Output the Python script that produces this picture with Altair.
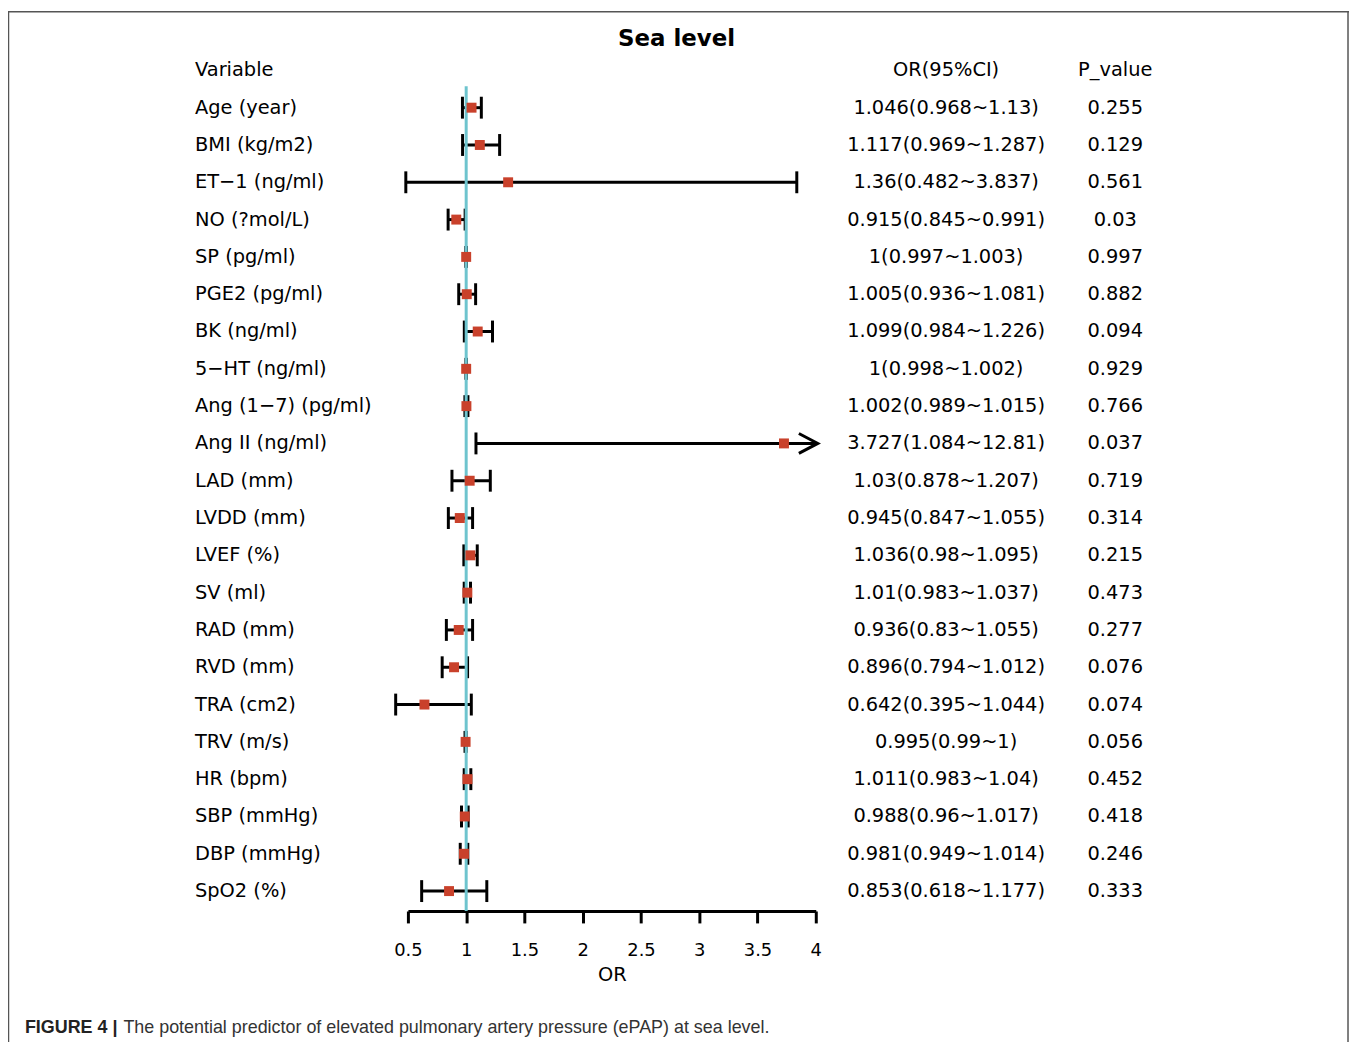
import altair as alt
import pandas as pd

# ---------------- data ----------------
variables = ["Age (year)", "BMI (kg/m2)", "ET\u22121 (ng/ml)", "NO (?mol/L)", "SP (pg/ml)",
             "PGE2 (pg/ml)", "BK (ng/ml)", "5\u2212HT (ng/ml)", "Ang (1\u22127) (pg/ml)",
             "Ang II (ng/ml)", "LAD (mm)", "LVDD (mm)", "LVEF (%)", "SV (ml)", "RAD (mm)",
             "RVD (mm)", "TRA (cm2)", "TRV (m/s)", "HR (bpm)", "SBP (mmHg)", "DBP (mmHg)",
             "SpO2 (%)"]
odds = [1.046, 1.117, 1.36, 0.915, 1, 1.005, 1.099, 1, 1.002, 3.727, 1.03, 0.945,
        1.036, 1.01, 0.936, 0.896, 0.642, 0.995, 1.011, 0.988, 0.981, 0.853]
lower = [0.968, 0.969, 0.482, 0.845, 0.997, 0.936, 0.984, 0.998, 0.989, 1.084, 0.878,
         0.847, 0.98, 0.983, 0.83, 0.794, 0.395, 0.99, 0.983, 0.96, 0.949, 0.618]
upper = [1.13, 1.287, 3.837, 0.991, 1.003, 1.081, 1.226, 1.002, 1.015, 12.81, 1.207,
         1.055, 1.095, 1.037, 1.055, 1.012, 1.044, 1, 1.04, 1.017, 1.014, 1.177]
ci_text = ["1.046(0.968~1.13)", "1.117(0.969~1.287)", "1.36(0.482~3.837)",
           "0.915(0.845~0.991)", "1(0.997~1.003)", "1.005(0.936~1.081)",
           "1.099(0.984~1.226)", "1(0.998~1.002)", "1.002(0.989~1.015)",
           "3.727(1.084~12.81)", "1.03(0.878~1.207)", "0.945(0.847~1.055)",
           "1.036(0.98~1.095)", "1.01(0.983~1.037)", "0.936(0.83~1.055)",
           "0.896(0.794~1.012)", "0.642(0.395~1.044)", "0.995(0.99~1)",
           "1.011(0.983~1.04)", "0.988(0.96~1.017)", "0.981(0.949~1.014)",
           "0.853(0.618~1.177)"]
p_values = ["0.255", "0.129", "0.561", "0.03", "0.997", "0.882", "0.094", "0.929",
            "0.766", "0.037", "0.719", "0.314", "0.215", "0.473", "0.277", "0.076",
            "0.074", "0.056", "0.452", "0.418", "0.246", "0.333"]
headers = ["Variable", "OR(95%CI)", "P_value"]
tick_values = [0.5, 1, 1.5, 2, 2.5, 3, 3.5, 4]
x_min, x_max = 0.5, 4
ref_value = 1
title_text = "Sea level"
caption_bold = "FIGURE 4 |"
caption_text = "The potential predictor of elevated pulmonary artery pressure (ePAP) at sea level."

# ---------------- tables ----------------
n = len(variables)
df = pd.DataFrame({
    "row": list(range(1, n + 1)),
    "variable": variables,
    "or": odds,
    "lo": lower,
    "hi": upper,
})
df["hi_draw"] = df["hi"].clip(upper=x_max)
caps = pd.concat([
    pd.DataFrame({"row": df["row"], "v": df["lo"]}),
    pd.DataFrame({"row": df["row"][df["hi"] <= x_max], "v": df["hi"][df["hi"] <= x_max]}),
])
arrows = df[df["hi"] > x_max][["row", "hi_draw"]]

text_df = pd.DataFrame({
    "row": list(range(0, n + 1)),
    "label": [headers[0]] + variables,
    "ci": [headers[1]] + ci_text,
    "p": [headers[2]] + p_values,
})

FONT = "DejaVu Sans"
FS = 19.5
W, H = 1348, 1034

xs = alt.Scale(domain=[x_min, x_max], range=[402, 812], nice=False, zero=False)
ys = alt.Scale(domain=[0, n], range=[60, 885], nice=False, zero=False)

x_axis = alt.Axis(values=tick_values, format="~g", orient="bottom", offset=905 - H,
                  domainColor="black", domainWidth=3, tickColor="black", tickWidth=3,
                  tickSize=12, labelFont=FONT, labelFontSize=18, labelColor="black",
                  labelPadding=19, labelFlush=False, labelOverlap=False, grid=False,
                  title="OR", titleFont=FONT, titleFontSize=FS, titleFontWeight="normal",
                  titleColor="black", titlePadding=6)

base = alt.Chart(df)

ci_lines = base.mark_rule(color="black", strokeWidth=3).encode(
    x=alt.X("lo:Q", scale=xs, axis=x_axis),
    x2="hi_draw:Q",
    y=alt.Y("row:Q", scale=ys, axis=None),
)

cap_marks = alt.Chart(caps).mark_tick(color="black", thickness=3, size=22,
                                      orient="vertical", opacity=1).encode(
    x=alt.X("v:Q", scale=xs),
    y=alt.Y("row:Q", scale=ys),
)

arrow_marks = alt.Chart(arrows).mark_point(
    shape="M -1.9 -1 L 0 0 L -1.9 1", size=400, filled=False, stroke="black",
    strokeWidth=3, opacity=1, strokeJoin="miter", xOffset=2).encode(
    x=alt.X("hi_draw:Q", scale=xs),
    y=alt.Y("row:Q", scale=ys),
)

ref_line = alt.Chart(pd.DataFrame({"ref": [ref_value]})).mark_rule(
    color="#6ec4ce", strokeWidth=3).encode(
    x=alt.X("ref:Q", scale=xs),
    y=alt.value(76),
    y2=alt.value(905),
)

points = base.mark_square(size=100, color="#c9412b", opacity=1).encode(
    x=alt.X("or:Q", scale=xs),
    y=alt.Y("row:Q", scale=ys),
)

tbase = alt.Chart(text_df)
labels = tbase.mark_text(align="left", baseline="middle", font=FONT, fontSize=FS,
                         color="black").encode(
    x=alt.value(188), y=alt.Y("row:Q", scale=ys), text="label:N")
ci_col = tbase.mark_text(align="center", baseline="middle", font=FONT, fontSize=FS,
                         color="black").encode(
    x=alt.value(943), y=alt.Y("row:Q", scale=ys), text="ci:N")
p_col = tbase.mark_text(align="center", baseline="middle", font=FONT, fontSize=FS,
                        color="black").encode(
    x=alt.value(1113), y=alt.Y("row:Q", scale=ys), text="p:N")

title = alt.Chart(pd.DataFrame({"t": [title_text]})).mark_text(
    align="center", baseline="middle", font=FONT, fontSize=23, fontWeight="bold",
    color="black").encode(x=alt.value(672), y=alt.value(29), text="t:N")

cap1 = alt.Chart(pd.DataFrame({"t": [caption_bold]})).mark_text(
    align="left", baseline="alphabetic", font="Liberation Sans", fontSize=18,
    fontWeight="bold", color="#222").encode(x=alt.value(17), y=alt.value(1028), text="t:N")
cap2 = alt.Chart(pd.DataFrame({"t": [caption_text]})).mark_text(
    align="left", baseline="alphabetic", font="Liberation Sans", fontSize=18,
    color="#333").encode(x=alt.value(116), y=alt.value(1028), text="t:N")

# figure frame (top, left, right edges; bottom lies below the window)
frame_df = pd.DataFrame({"k": [0]})
frame_top = alt.Chart(frame_df).mark_rule(color="#555", strokeWidth=1.5).encode(
    x=alt.value(0), x2=alt.value(W), y=alt.value(1))
frame_left = alt.Chart(frame_df).mark_rule(color="#555", strokeWidth=1.5).encode(
    x=alt.value(0.5), y=alt.value(1), y2=alt.value(H + 10))
frame_right = alt.Chart(frame_df).mark_rule(color="#555", strokeWidth=1.5).encode(
    x=alt.value(W - 1), y=alt.value(1), y2=alt.value(H + 10))

chart = alt.layer(frame_top, frame_left, frame_right, ci_lines, cap_marks, arrow_marks,
                  ref_line, points, labels, ci_col, p_col, title, cap1, cap2).properties(
    width=W, height=H, padding=0,
    autosize=alt.AutoSizeParams(type="none"),
    background="white",
).configure_view(stroke=None)

chart.save("out.html", embed_options={"renderer": "svg", "actions": False})
